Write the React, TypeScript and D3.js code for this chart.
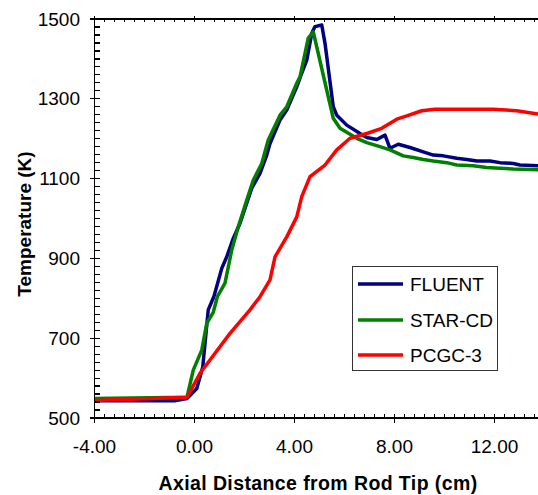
import React from "react";
import * as d3 from "d3";

const fluentX = [-4, -0.8, -0.3, 0.09, 0.33, 0.55, 0.78, 1.09, 1.29, 1.55, 1.82, 2.29, 2.62, 2.89, 3.02, 3.42, 3.69, 4.09, 4.29, 4.49, 4.69, 4.82, 5.09, 5.22, 5.55, 5.69, 6.09, 6.62, 6.89, 7.29, 7.62, 7.82, 8.15, 8.62, 9.15, 9.55, 9.95, 10.49, 10.89, 11.29, 11.82, 12.22, 12.75, 13.02, 13.74, 14];
const fluentT = [543, 543, 549, 574, 628, 771, 805, 875, 904, 950, 988, 1076, 1113, 1159, 1188, 1247, 1272, 1330, 1364, 1397, 1464, 1481, 1485, 1439, 1280, 1259, 1234, 1213, 1203, 1198, 1209, 1176, 1186, 1178, 1167, 1159, 1157, 1151, 1148, 1144, 1144, 1140, 1138, 1134, 1132, 1131];

const starX = [-4, -0.3, -0.05, 0.29, 0.49, 0.75, 0.92, 1.22, 1.49, 1.75, 2.09, 2.35, 2.69, 2.95, 3.42, 3.69, 4.09, 4.22, 4.55, 4.75, 5.55, 5.82, 6.49, 6.89, 7.42, 7.82, 8.35, 8.75, 9.15, 9.55, 10.09, 10.49, 11.15, 11.69, 12.22, 12.75, 13.74, 14];
const starT = [549, 552, 620, 670, 737, 765, 805, 838, 921, 979, 1046, 1096, 1138, 1197, 1259, 1280, 1339, 1355, 1452, 1468, 1251, 1226, 1201, 1190, 1180, 1172, 1157, 1153, 1148, 1144, 1140, 1134, 1132, 1128, 1126, 1124, 1122, 1122];

const pcgcX = [-4, -0.3, 0.22, 1.42, 2.22, 2.62, 3.02, 3.22, 3.69, 4.09, 4.29, 4.62, 5.22, 5.69, 6.22, 6.89, 7.49, 8.09, 8.49, 9.09, 9.62, 11.95, 12.89, 13.74, 14];
const pcgcT = [544, 552, 612, 712, 771, 804, 846, 904, 954, 1004, 1055, 1105, 1134, 1172, 1201, 1213, 1226, 1249, 1257, 1270, 1274, 1274, 1270, 1262, 1260];

const seriesNames = ["FLUENT", "STAR-CD", "PCGC-3"];
const seriesColors = ["#000080", "#008000", "#ff0000"];
const xTickValues = [-4, 0, 4, 8, 12];
const yTickValues = [500, 700, 900, 1100, 1300, 1500];

const FONT = "'Liberation Sans', Arial, sans-serif";

export default function App() {
  const left = 94.5, right = 544.5, top = 19, bottom = 418;
  const x = d3.scaleLinear().domain([-4, 14]).range([left, right]);
  const y = d3.scaleLinear().domain([500, 1500]).range([bottom, top]);

  const series = [
    fluentX.map((v, i) => [v, fluentT[i]] as [number, number]),
    starX.map((v, i) => [v, starT[i]] as [number, number]),
    pcgcX.map((v, i) => [v, pcgcT[i]] as [number, number]),
  ];
  const line = d3.line<[number, number]>().x((d) => x(d[0])).y((d) => y(d[1]));

  const xMinor = d3.range(-4, 14.001, 0.4).filter((v) => Math.abs(v / 4 - Math.round(v / 4)) > 1e-6);
  const yMinor = d3.range(500, 1500.001, 20).filter((v) => v % 200 !== 100);

  const legendY = [284, 320, 355];

  return (
    <svg width={538} height={495} style={{ position: "absolute", left: 0, top: 0, background: "#fff" }}>
      <rect x={0} y={0} width={538} height={495} fill="#fff" />
      {/* lines */}
      {series.map((s, i) => (
        <path key={i} d={line(s) || ""} fill="none" stroke={seriesColors[i]} strokeWidth={3.5} strokeLinejoin="round" />
      ))}
      {/* axes */}
      <g stroke="#000" strokeWidth={1.2} shapeRendering="crispEdges">
        <line x1={left} x2={left} y1={top} y2={bottom} />
        <line x1={left} x2={right} y1={bottom} y2={bottom} />
        <line x1={left} x2={right} y1={top} y2={top} />
        {yTickValues.map((v) => (
          <line key={"ym" + v} x1={left - 5} x2={left + 5} y1={y(v)} y2={y(v)} />
        ))}
        {yMinor.map((v) => (
          <line key={"yn" + v} x1={left} x2={left + 5} y1={y(v)} y2={y(v)} />
        ))}
        {xTickValues.map((v) => (
          <line key={"xm" + v} x1={x(v)} x2={x(v)} y1={bottom - 4} y2={bottom + 5} />
        ))}
        {xMinor.map((v) => (
          <line key={"xn" + v} x1={x(v)} x2={x(v)} y1={bottom - 4} y2={bottom} />
        ))}
        {xTickValues.map((v) => (
          <line key={"tm" + v} x1={x(v)} x2={x(v)} y1={top - 3} y2={top + 3} />
        ))}
        {xMinor.map((v) => (
          <line key={"tn" + v} x1={x(v)} x2={x(v)} y1={top} y2={top + 3} />
        ))}
      </g>
      {/* tick labels */}
      <g fontFamily={FONT} fontSize={19} fill="#000">
        {yTickValues.map((v) => (
          <text key={"yl" + v} x={80} y={y(v) + 6.5} textAnchor="end">{v}</text>
        ))}
        {xTickValues.map((v) => (
          <text key={"xl" + v} x={x(v)} y={453} textAnchor="middle">{v.toFixed(2)}</text>
        ))}
      </g>
      {/* axis titles */}
      <text x={318} y={490} textAnchor="middle" fontFamily={FONT} fontSize={19.5} fontWeight="bold" letterSpacing={0.4}>
        Axial Distance from Rod Tip (cm)
      </text>
      <text transform="translate(31,224) rotate(-90)" textAnchor="middle" fontFamily={FONT} fontSize={19} fontWeight="bold">
        Temperature (K)
      </text>
      {/* legend */}
      <rect x={352.5} y={266.5} width={145} height={104} fill="#fff" stroke="#333" strokeWidth={1} />
      {seriesNames.map((n, i) => (
        <g key={n}>
          <line x1={358} x2={403} y1={legendY[i]} y2={legendY[i]} stroke={seriesColors[i]} strokeWidth={3.5} />
          <text x={410} y={legendY[i] + 6.5} fontFamily={FONT} fontSize={19} fill="#000">{n}</text>
        </g>
      ))}
    </svg>
  );
}
